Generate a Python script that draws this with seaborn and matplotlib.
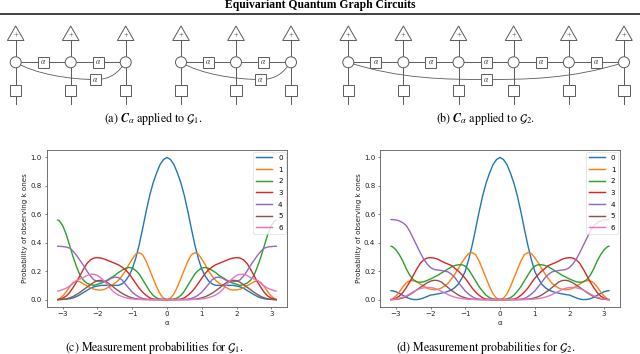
import matplotlib
matplotlib.use('Agg')
import matplotlib.pyplot as plt
from matplotlib.patches import Circle, Rectangle, Polygon, PathPatch
from matplotlib.path import Path
import numpy as np
import pandas as pd
import seaborn as sns

plt.rcParams['mathtext.fontset'] = 'stix'

# alpha grid, curves are symmetric so only the positive half is listed
alpha_half = [0, .1, .2, .3, .4, .5, .6, .7, .8, .9, 1.0, 1.1, 1.2, 1.3, 1.4, 1.5,
              1.6, 1.7, 1.8, 1.9, 2.0, 2.1, 2.2, 2.3, 2.4, 2.5, 2.6, 2.7, 2.8, 2.9, 3.0, 3.1, 3.1416]

# measurement probabilities for G1
g1_k0 = [1, .985, .95, .89, .82, .73, .62, .50, .385, .29, .215, .165, .13, .11, .10, .10, .10,
         .10, .10, .10, .095, .09, .08, .065, .05, .035, .022, .012, .006, .003, .001, 0, 0]
g1_k1 = [0, .01, .04, .09, .15, .21, .27, .315, .33, .32, .285, .245, .20, .165, .135, .115, .10,
         .085, .072, .067, .068, .073, .083, .097, .11, .125, .132, .12, .09, .055, .025, .004, 0]
g1_k2 = [0, .001, .003, .012, .03, .06, .10, .14, .18, .205, .222, .226, .22, .205, .19, .17, .155,
         .14, .125, .115, .108, .10, .105, .115, .135, .17, .23, .30, .38, .46, .52, .555, .56]
g1_k3 = [0, 0, 0, .001, .004, .012, .03, .052, .08, .115, .15, .185, .21, .23, .245, .255, .265,
         .275, .285, .292, .295, .292, .28, .255, .215, .17, .125, .085, .05, .025, .01, .002, 0]
g1_k4 = [0, 0, 0, 0, 0, .001, .003, .008, .018, .032, .052, .08, .11, .14, .155, .158, .15,
         .135, .125, .125, .13, .138, .165, .20, .24, .275, .31, .34, .362, .37, .373, .375, .375]
g1_k5 = [0, 0, 0, 0, 0, 0, 0, .001, .003, .006, .012, .02, .032, .045, .062, .08, .10,
         .118, .13, .136, .133, .122, .105, .088, .07, .052, .036, .022, .012, .005, .002, 0, 0]
g1_k6 = [0, 0, 0, 0, 0, 0, 0, .001, .001, .002, .005, .008, .014, .022, .032, .048, .07,
         .10, .13, .152, .17, .178, .178, .17, .155, .145, .135, .115, .095, .08, .07, .062, .06]

# measurement probabilities for G2
g2_k0 = [1, .985, .95, .89, .82, .73, .62, .50, .385, .285, .20, .15, .11, .085, .068, .058, .05,
         .045, .04, .035, .032, .022, .012, .004, 0, .001, .006, .016, .03, .043, .055, .062, .063]
g2_k1 = [0, .01, .04, .09, .15, .21, .27, .315, .33, .325, .295, .26, .22, .18, .145, .115, .095,
         .08, .072, .07, .072, .08, .095, .11, .125, .133, .132, .118, .09, .055, .025, .004, 0]
g2_k2 = [0, .001, .004, .013, .03, .058, .09, .13, .17, .21, .235, .245, .245, .24, .23, .215, .20,
         .185, .17, .158, .145, .135, .125, .122, .125, .14, .17, .215, .27, .315, .35, .372, .375]
g2_k3 = [0, 0, 0, .001, .004, .012, .03, .052, .08, .115, .15, .175, .20, .22, .24, .25, .26,
         .272, .285, .292, .295, .292, .28, .255, .215, .17, .125, .085, .05, .025, .01, .002, 0]
g2_k4 = [0, 0, 0, 0, 0, .001, .003, .008, .02, .038, .06, .09, .12, .155, .178, .195, .20,
         .205, .208, .212, .225, .25, .285, .33, .38, .43, .48, .52, .54, .553, .56, .563, .563]
g2_k5 = [0, 0, 0, 0, 0, 0, 0, .001, .003, .006, .012, .02, .032, .048, .065, .085, .105,
         .125, .134, .136, .13, .118, .102, .085, .068, .05, .035, .022, .012, .005, .002, 0, 0]
g2_k6 = [0, 0, 0, 0, 0, 0, 0, .001, .001, .002, .004, .007, .011, .017, .025, .035, .048,
         .06, .072, .08, .085, .085, .083, .077, .068, .055, .04, .027, .017, .01, .005, .001, 0]

k_labels = ['0', '1', '2', '3', '4', '5', '6']
x_ticks = [-3, -2, -1, 0, 1, 2, 3]
y_ticks = [0.0, 0.2, 0.4, 0.6, 0.8, 1.0]

W, H = 640, 354
GREY = '#5a5a5a'


def long_table(curves):
    rows = []
    for k, vals in zip(k_labels, curves):
        xs = np.r_[-np.array(alpha_half[:0:-1]), alpha_half]
        ys = np.r_[vals[:0:-1], vals]
        rows.append(pd.DataFrame({'alpha': xs, 'p': ys, 'k': k}))
    return pd.concat(rows)


def draw_chart(rect, curves):
    ax = fig.add_axes(rect)
    sns.lineplot(data=long_table(curves), x='alpha', y='p', hue='k', palette='tab10',
                 estimator=None, sort=False, linewidth=1.0, ax=ax)
    ax.set_xlim(-3.46, 3.46)
    ax.set_ylim(-0.05, 1.05)
    ax.set_xticks(x_ticks)
    ax.set_yticks(y_ticks)
    ax.tick_params(labelsize=5.1, length=1.7, width=0.4, pad=1.7, colors='#222222')
    ax.set_xlabel('α', fontsize=5.1, labelpad=1.7, color='#222222')
    ax.set_ylabel('Probability of observing k ones', fontsize=5.1, labelpad=1.7, color='#222222')
    for s in ax.spines.values():
        s.set_linewidth(0.6)
        s.set_color(GREY)
    leg = ax.legend(loc='upper right', fontsize=5.1, title=None, borderaxespad=0.25,
                    labelspacing=0.8, handlelength=2.3)
    leg.get_frame().set_linewidth(0.4)
    for line in leg.get_lines():
        line.set_linewidth(1.05)
    return ax


def gate(ax, x, y, size, label=None):
    ax.add_patch(Rectangle((x - size / 2, y - size / 2), size, size, fc='white', ec=GREY, lw=0.7, zorder=4))
    if label:
        ax.text(x, y, label, fontsize=5.5, ha='center', va='center', family='Liberation Serif', color='#333333', zorder=5)


def circuit(ax, xs, low_x, bends):
    top, wire, low, bottom = 26, 62.3, 79.5, 90.3
    # long curved edge first so it sits below the gates
    ax.add_patch(PathPatch(Path(bends, [Path.MOVETO] + [Path.CURVE4] * (len(bends) - 1)),
                           fc='none', ec=GREY, lw=0.6, zorder=2))
    ax.plot([xs[0], xs[-1]], [wire, wire], color=GREY, lw=0.7, zorder=1)
    for x in xs:
        ax.plot([x, x], [top + 8, 104], color=GREY, lw=0.7, zorder=1)
        ax.add_patch(Polygon([(x, top), (x - 8.3, top + 14.5), (x + 8.3, top + 14.5)],
                             fc='white', ec=GREY, lw=0.7, zorder=4))
        ax.text(x, top + 9, '+', fontsize=6, ha='center', va='center',
                family='Liberation Serif', color='#444444', zorder=5)
        ax.add_patch(Circle((x, wire), 5.5, fc='white', ec=GREY, lw=0.7, zorder=4))
        gate(ax, x, bottom, 11.5)
    for a, b in zip(xs[:-1], xs[1:]):
        gate(ax, (a + b) / 2, wire, 11, r'$\alpha$')
    gate(ax, low_x, low, 11, r'$\alpha$')


fig = plt.figure(figsize=(W / 100, H / 100), dpi=100)

# page layer in pixel coordinates
page = fig.add_axes([0, 0, 1, 1])
page.set_xlim(0, W)
page.set_ylim(H, 0)
page.axis('off')

page.text(320, 5, 'Equivariant Quantum Graph Circuits', fontsize=8.4, fontweight='bold',
          family='Liberation Serif', ha='center', va='center')
page.plot([0, W], [13.5, 13.5], color='#222222', lw=1.2)

for shift in (0, 165.3):
    xs = [15.7 + shift, 70.7 + shift, 125.7 + shift]
    circuit(page, xs, 95 + shift,
            [(xs[0], 62.3), (35 + shift, 74), (70 + shift, 79.5), (95 + shift, 79.5),
             (112 + shift, 79.5), (118 + shift, 72), (xs[2], 62.3)])

xs_b = [348.3, 403.4, 458.5, 513.6, 568.8, 624]
circuit(page, xs_b, 486,
        [(xs_b[0], 62.3), (400, 79.5), (450, 79.5), (486, 79.5),
         (522, 79.5), (572, 79.5), (xs_b[-1], 62.3)])


def caption(x, y, s):
    page.text(x, y, s, fontsize=8.6, family='STIXGeneral', ha='center', va='center')


caption(153, 118.5, r'(a) $\boldsymbol{C}_{\alpha}$ applied to $\mathcal{G}_1$.')
caption(486, 118.5, r'(b) $\boldsymbol{C}_{\alpha}$ applied to $\mathcal{G}_2$.')
caption(154, 347, r'(c) Measurement probabilities for $\mathcal{G}_1$.')
caption(486, 347, r'(d) Measurement probabilities for $\mathcal{G}_2$.')

ay0, ay1 = 1 - 306.7 / H, 1 - 150.3 / H
draw_chart([46.7 / W, ay0, 240.6 / W, ay1 - ay0], [g1_k0, g1_k1, g1_k2, g1_k3, g1_k4, g1_k5, g1_k6])
draw_chart([380 / W, ay0, 240 / W, ay1 - ay0], [g2_k0, g2_k1, g2_k2, g2_k3, g2_k4, g2_k5, g2_k6])

fig.savefig('out.png', dpi=100)
